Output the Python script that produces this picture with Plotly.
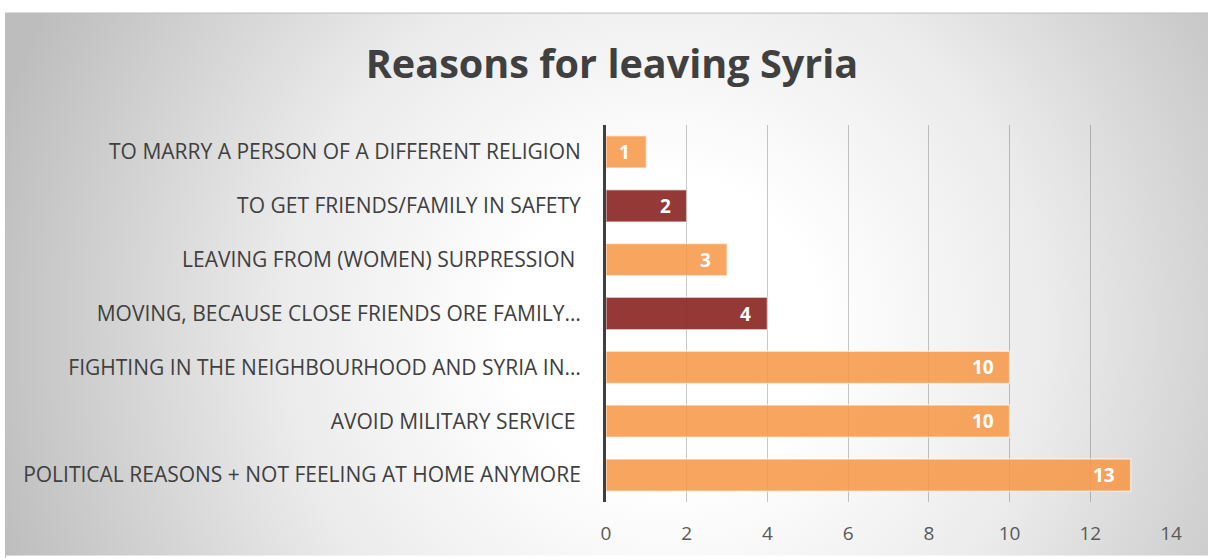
import base64
import plotly.graph_objects as go

# Survey answers, listed top to bottom as shown
reasons = [
    "TO MARRY A PERSON OF A DIFFERENT RELIGION",
    "TO GET FRIENDS/FAMILY IN SAFETY",
    "LEAVING FROM (WOMEN) SURPRESSION ",
    "MOVING, BECAUSE CLOSE FRIENDS ORE FAMILY…",
    "FIGHTING IN THE NEIGHBOURHOOD AND SYRIA IN…",
    "AVOID MILITARY SERVICE ",
    "POLITICAL REASONS + NOT FEELING AT HOME ANYMORE",
]
counts = [1, 2, 3, 4, 10, 10, 13]
x_ticks = [0, 2, 4, 6, 8, 10, 12, 14]

ORANGE = "rgba(247,150,70,0.86)"
DARK_RED = "rgba(140,40,38,0.92)"
bar_colors = [ORANGE, DARK_RED, ORANGE, DARK_RED, ORANGE, ORANGE, ORANGE]

FONT = "Open Sans"
W, H = 1208, 558
PLOT_L, PLOT_R, PLOT_T, PLOT_B = 606, 1171, 125, 504


def px_x(px):
    return (px - PLOT_L) / (PLOT_R - PLOT_L)


def px_y(py):
    return (PLOT_B - py) / (PLOT_B - PLOT_T)


# Soft radial grey gradient for the chart panel
bg_w, bg_h = W - 5, H - 12
svg = (
    f'<svg xmlns="http://www.w3.org/2000/svg" width="{bg_w}" height="{bg_h}" '
    f'viewBox="0 0 {bg_w} {bg_h}" preserveAspectRatio="none">'
    '<defs><radialGradient id="g" gradientUnits="userSpaceOnUse" '
    'cx="660" cy="320" r="700">'
    '<stop offset="0" stop-color="#ffffff"/>'
    '<stop offset="0.22" stop-color="#ffffff"/>'
    '<stop offset="0.55" stop-color="#ebebeb"/>'
    '<stop offset="1" stop-color="#bdbdbd"/>'
    '</radialGradient></defs>'
    f'<rect x="0" y="0" width="{bg_w}" height="{bg_h}" fill="url(#g)"/></svg>'
)
bg_uri = "data:image/svg+xml;base64," + base64.b64encode(svg.encode()).decode()

fig = go.Figure(
    go.Bar(
        x=counts,
        y=reasons,
        orientation="h",
        width=0.6,
        marker=dict(color=bar_colors, line=dict(color="rgba(255,255,255,0.55)", width=1.5)),
        hoverinfo="x+y",
    )
)

# White value labels just inside the end of each bar
for reason, value in zip(reasons, counts):
    fig.add_annotation(
        x=value, y=reason, xref="x", yref="y",
        text=f"<b>{value}</b>", showarrow=False,
        xanchor="right", xshift=-14, yshift=0,
        font=dict(family=FONT, size=19, color="white"),
    )

fig.add_layout_image(
    source=bg_uri, xref="paper", yref="paper",
    x=px_x(5), y=px_y(12), sizex=px_x(W) - px_x(5), sizey=px_y(12) - px_y(H),
    xanchor="left", yanchor="top", sizing="stretch", layer="below",
)
fig.add_shape(
    type="rect", xref="paper", yref="paper",
    x0=px_x(5.5), x1=px_x(W + 5), y0=px_y(H + 5), y1=px_y(12.5),
    line=dict(color="#bfbfbf", width=1), layer="below",
)

fig.update_layout(
    width=W, height=H,
    margin=dict(l=PLOT_L, r=W - PLOT_R, t=PLOT_T, b=H - PLOT_B),
    paper_bgcolor="white",
    plot_bgcolor="rgba(0,0,0,0)",
    showlegend=False,
    title=dict(
        text="<b>Reasons for leaving Syria</b>",
        x=px_x(612), xref="paper", xanchor="center",
        y=1 - 64 / H, yref="container", yanchor="middle",
        font=dict(family=FONT, size=39.6, color="#404040"),
    ),
    font=dict(family=FONT, color="#404040"),
)

fig.update_xaxes(
    range=[0, 14], tickvals=x_ticks, showgrid=True,
    gridcolor="rgba(0,0,0,0.22)", gridwidth=1, zeroline=False,
    tickfont=dict(family=FONT, size=19, color="#595959"),
    ticklabelstandoff=18, fixedrange=True,
)
fig.update_yaxes(
    categoryorder="array", categoryarray=reasons, autorange="reversed",
    showline=True, linecolor="#404040", linewidth=3,
    showgrid=False, ticks="", ticklabelstandoff=18,
    tickfont=dict(family=FONT, size=21, color="#404040"),
    fixedrange=True,
)

fig.write_html("out.html")
